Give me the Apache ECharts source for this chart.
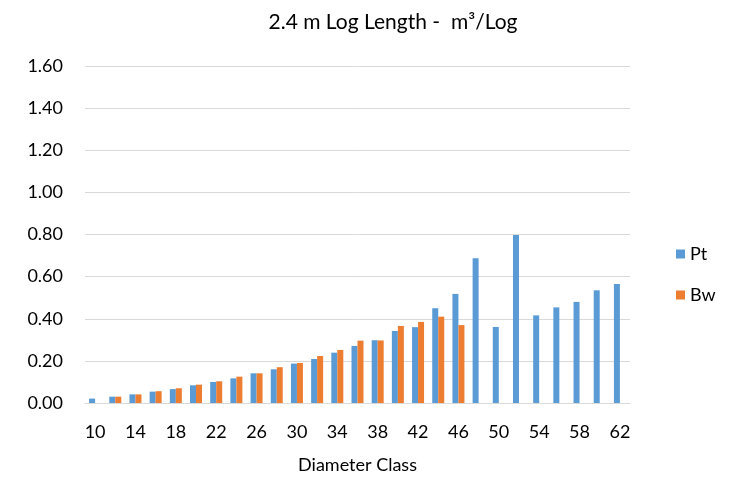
<!DOCTYPE html>
<html>
<head>
<meta charset="utf-8">
<script src="https://cdn.jsdelivr.net/npm/echarts@6/dist/echarts.min.js"></script>
<style>
  html, body { margin: 0; padding: 0; background: #fff; }
  #chart { width: 732px; height: 477px; }
</style>
</head>
<body>
<div id="chart"></div>
<script>
// Diameter classes (cm)
const diameterClasses = ['10','12','14','16','18','20','22','24','26','28','30','32','34','36','38','40','42','44','46','48','50','52','54','56','58','60','62'];

// Volume per 2.4 m log (m3/log)
const ptValues = [0.021, 0.030, 0.041, 0.054, 0.066, 0.084, 0.100, 0.117, 0.141, 0.160, 0.187, 0.209, 0.239, 0.271, 0.298, 0.342, 0.360, 0.450, 0.518, 0.687, 0.361, 0.798, 0.416, 0.454, 0.480, 0.535, 0.565];
const bwValues = [null, 0.030, 0.041, 0.056, 0.070, 0.087, 0.103, 0.125, 0.141, 0.170, 0.190, 0.223, 0.252, 0.296, 0.297, 0.366, 0.385, 0.410, 0.370, null, null, null, null, null, null, null, null];

const yTicks = { min: 0, max: 1.6, interval: 0.2 };

const FONT = 'Lato, "Open Sans", sans-serif';
const chart = echarts.init(document.getElementById('chart'));
chart.setOption({
  animation: false,
  backgroundColor: '#fff',
  title: {
    text: '2.4 m Log Length -  m³/Log',
    left: 388,
    textAlign: 'center',
    top: 7,
    textStyle: { fontFamily: FONT, fontSize: 21, fontWeight: 'normal', color: '#000' }
  },
  legend: {
    orient: 'vertical',
    left: 671,
    top: 240,
    itemWidth: 9,
    itemHeight: 9,
    itemGap: 23,
    icon: 'rect',
    textStyle: { fontFamily: FONT, fontSize: 18, color: '#000' },
    data: ['Pt', 'Bw']
  },
  grid: { left: 85, right: 102, top: 66, bottom: 74, containLabel: false, outerBoundsMode: 'none' },
  xAxis: {
    type: 'category',
    data: diameterClasses,
    name: 'Diameter Class',
    nameLocation: 'middle',
    nameGap: 53,
    nameTextStyle: { fontFamily: FONT, fontSize: 18, color: '#000', verticalAlign: 'top' },
    axisLine: { lineStyle: { color: '#d9d9d9', width: 1 } },
    axisTick: { show: false },
    axisLabel: { interval: 1, fontFamily: FONT, fontSize: 18, color: '#000', margin: 20 }
  },
  yAxis: {
    type: 'value',
    min: yTicks.min,
    max: yTicks.max,
    interval: yTicks.interval,
    axisLine: { show: false },
    axisTick: { show: false },
    splitLine: { lineStyle: { color: '#d9d9d9', width: 1 } },
    axisLabel: { fontFamily: FONT, fontSize: 18, color: '#000', margin: 22, formatter: v => v.toFixed(2) }
  },
  series: [
    { name: 'Pt', type: 'bar', data: ptValues, barWidth: 6, barGap: '0%', itemStyle: { color: '#5b9bd5' } },
    { name: 'Bw', type: 'bar', data: bwValues, barWidth: 6, itemStyle: { color: '#ed7d31' } }
  ]
});
</script>
</body>
</html>
